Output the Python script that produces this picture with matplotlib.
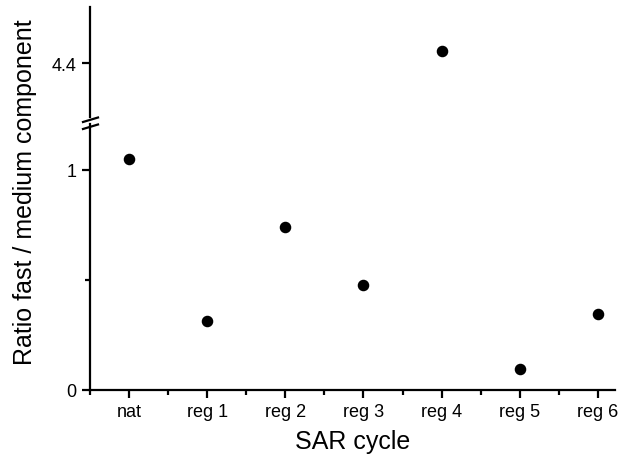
import matplotlib
matplotlib.use("Agg")
import matplotlib.pyplot as plt
from matplotlib.ticker import FixedLocator

plt.rcParams['font.family'] = ['Liberation Sans', 'DejaVu Sans']

# data
cycles = ['nat', 'reg 1', 'reg 2', 'reg 3', 'reg 4', 'reg 5', 'reg 6']
ratio = [1.05, 0.314, 0.741, 0.477, 4.455, 0.095, 0.345]

W, H = 633, 464
fig = plt.figure(figsize=(W / 100, H / 100), dpi=100)

left, right = 90 / W, 615 / W
lo_bot, lo_top = 1 - 391 / H, 1 - 125 / H
up_bot, up_top = 1 - 118 / H, 1 - 8 / H

ax_lo = fig.add_axes([left, lo_bot, right - left, lo_top - lo_bot])
ax_up = fig.add_axes([left, up_bot, right - left, up_top - up_bot], sharex=ax_lo)

x = list(range(len(cycles)))
for ax in (ax_lo, ax_up):
    ax.plot(x, ratio, 'o', color='black', ms=7.3)
    ax.spines['top'].set_visible(False)
    ax.spines['right'].set_visible(False)
    for s in ('left', 'bottom'):
        ax.spines[s].set_linewidth(1.6)
    ax.tick_params(which='major', direction='out', length=6, width=1.6, labelsize=13)
    ax.tick_params(which='minor', direction='out', length=3.5, width=1.6)

ax_lo.set_xlim(-0.5, 6.22)
ax_lo.set_ylim(0, 1.209)
ax_up.set_ylim(4.155, 4.655)

ax_lo.xaxis.set_major_locator(FixedLocator(x))
ax_lo.xaxis.set_minor_locator(FixedLocator([i - 0.5 for i in x]))
ax_lo.set_xticklabels(cycles)
ax_lo.yaxis.set_major_locator(FixedLocator([0, 1]))
ax_lo.yaxis.set_minor_locator(FixedLocator([0.5]))
ax_lo.set_yticklabels(['0', '1'])

ax_up.spines['bottom'].set_visible(False)
ax_up.tick_params(axis='x', which='both', bottom=False, labelbottom=False)
ax_up.yaxis.set_major_locator(FixedLocator([4.4]))
ax_up.yaxis.set_minor_locator(FixedLocator([]))
ax_up.set_yticklabels(['4.4'])

ax_lo.set_xlabel('SAR cycle', fontsize=18, labelpad=6)
fig.text(25 / W, 1 - 192 / H, 'Ratio fast / medium component', fontsize=18,
         rotation=90, ha='center', va='center')

# break marks
for yp in (121, 128):
    yf = 1 - yp / H
    fig.add_artist(plt.Line2D([left - 7 / W, left + 8 / W], [yf - 2 / H, yf + 2.5 / H],
                              color='black', lw=1.6, transform=fig.transFigure))

fig.savefig('out.png', dpi=100)
